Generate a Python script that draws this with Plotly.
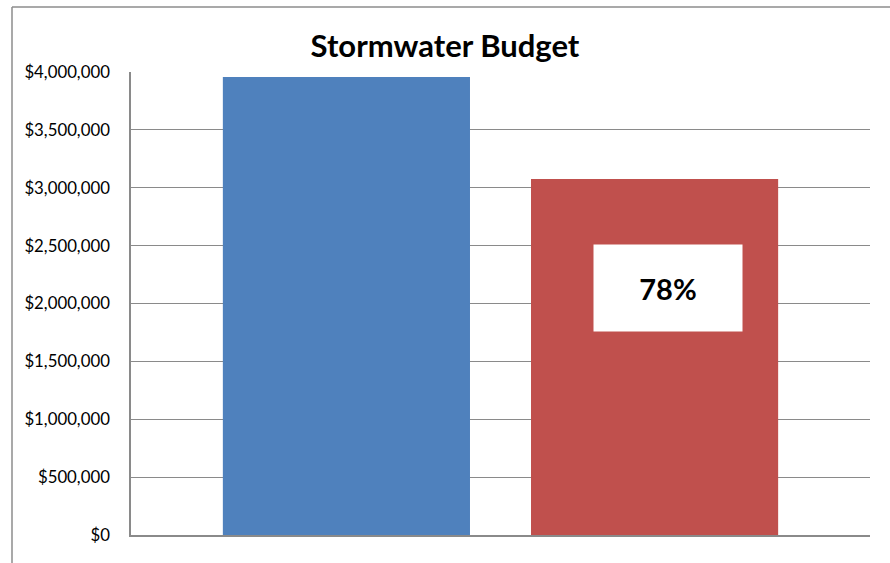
import plotly.graph_objects as go

# Stormwater budget vs. amount expended (single category, two series)
category = [""]
series_names = ["Budget", "Expended"]
budget = [3957000]
expended = [3075000]
series_colors = ["#4F81BD", "#C0504D"]

y_ticks = [0, 500000, 1000000, 1500000, 2000000, 2500000, 3000000, 3500000, 4000000]
y_tick_labels = ["$0", "$500,000", "$1,000,000", "$1,500,000", "$2,000,000",
                 "$2,500,000", "$3,000,000", "$3,500,000", "$4,000,000"]

pct_spent = round(expended[0] / budget[0] * 100)

fig = go.Figure()
for name, vals, col in zip(series_names, [budget, expended], series_colors):
    fig.add_trace(go.Bar(x=category, y=vals, name=name, marker=dict(color=col, line=dict(width=0))))

grid_col = "#8a8a8a"
font_family = "Lato, 'Open Sans', sans-serif"

fig.update_layout(
    width=890, height=563,
    margin=dict(l=131, r=20, t=72, b=28),
    paper_bgcolor="white", plot_bgcolor="white",
    barmode="group", bargap=0.166, bargroupgap=0.198,
    showlegend=False,
    title=dict(text="<b>Stormwater Budget</b>", x=0.5, xanchor="center",
               y=1 - 46 / 563, yanchor="middle",
               font=dict(family=font_family, size=31, color="black")),
    xaxis=dict(showticklabels=False, ticks="", showgrid=False,
               showline=True, linecolor=grid_col, linewidth=1.5),
    yaxis=dict(range=[0, 4000000], tickvals=y_ticks, ticktext=y_tick_labels,
               showgrid=True, gridcolor=grid_col, gridwidth=1.2,
               showline=True, linecolor=grid_col, linewidth=1.5,
               ticks="", ticklabelstandoff=16, zeroline=False,
               tickfont=dict(family=font_family, size=16.8, color="black")),
    font=dict(family=font_family),
)

# outer chart frame (left and top edges)
frame_x = (12 - 131) / 739
frame_y_top = (563 - 28 - 7) / 463
fig.add_shape(type="line", xref="paper", yref="paper",
              x0=frame_x, x1=frame_x, y0=frame_y_top, y1=-0.2,
              line=dict(color="#8c8c8c", width=1.5))
fig.add_shape(type="line", xref="paper", yref="paper",
              x0=frame_x, x1=1.2, y0=frame_y_top, y1=frame_y_top,
              line=dict(color="#8c8c8c", width=1.5))

# percentage label on the expended bar
fig.add_annotation(xref="paper", yref="paper", x=(668 - 131) / 739, y=(535 - 288) / 463,
                   xanchor="center", yanchor="middle",
                   text=f"<b>{pct_spent}%</b>", showarrow=False,
                   bgcolor="white", width=148, height=86, borderpad=0,
                   font=dict(family=font_family, size=29, color="black"))

fig.write_html("out.html")
